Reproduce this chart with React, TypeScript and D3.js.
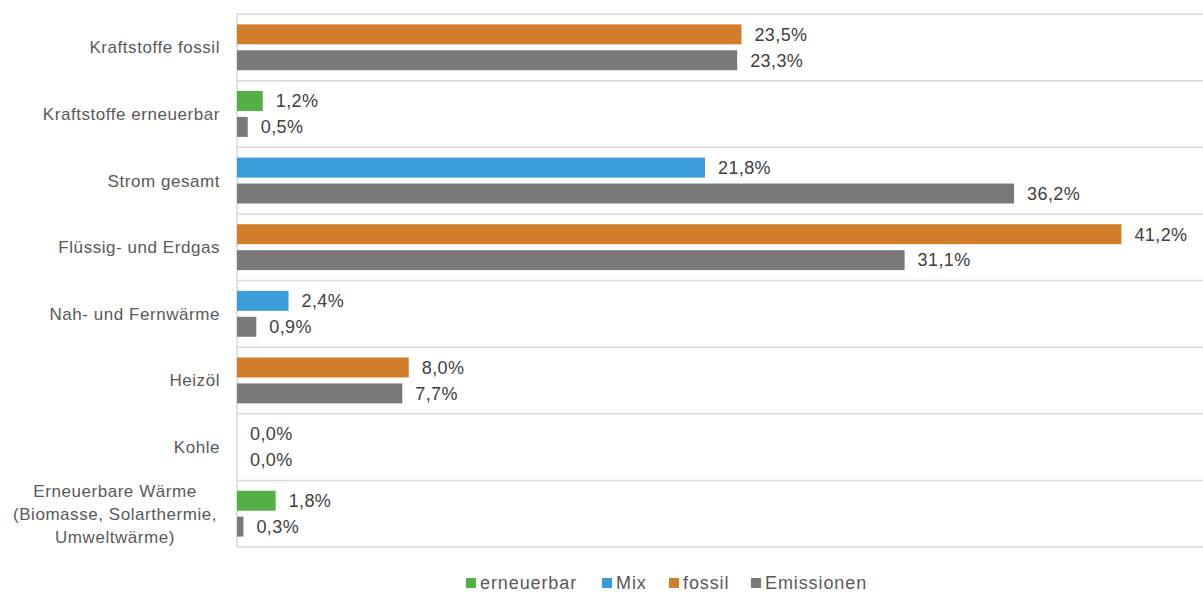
import React from "react";
import { scaleLinear, scaleBand, range } from "d3";

// categories (top to bottom)
const categories = [
  ["Kraftstoffe fossil"],
  ["Kraftstoffe erneuerbar"],
  ["Strom gesamt"],
  ["Flüssig- und Erdgas"],
  ["Nah- und Fernwärme"],
  ["Heizöl"],
  ["Kohle"],
  ["Erneuerbare Wärme", "(Biomasse, Solarthermie,", "Umweltwärme)"],
];
// share of final energy, in %
const shareValues = [23.5, 1.2, 21.8, 41.2, 2.4, 8.0, 0.0, 1.8];
const shareTypes = ["fossil", "erneuerbar", "Mix", "fossil", "Mix", "fossil", "fossil", "erneuerbar"];
// share of emissions, in %
const emissionValues = [23.3, 0.5, 36.2, 31.1, 0.9, 7.7, 0.0, 0.3];

const legendItems = ["erneuerbar", "Mix", "fossil", "Emissionen"];
const colors: Record<string, string> = {
  erneuerbar: "#54b046",
  Mix: "#3a9cd9",
  fossil: "#d17d2a",
  Emissionen: "#7a7978",
};

const W = 1203;
const H = 594;
const margin = { top: 14, right: 0, bottom: 47, left: 237 };

const fmt = (v: number) => v.toFixed(1).replace(".", ",") + "%";

export default function App() {
  const x = scaleLinear().domain([0, 45]).range([margin.left, W - margin.right]);
  const y = scaleBand<number>()
    .domain(range(categories.length))
    .range([margin.top, H - margin.bottom]);
  const inner = scaleBand<number>()
    .domain([0, 1])
    .range([0, y.bandwidth()])
    .paddingInner(0.23)
    .paddingOuter(0.4);

  const font = "'Liberation Sans', Arial, sans-serif";
  const legendX = [466, 602, 669, 751];
  const labelRight = 220;
  // multi-line labels are centred on their longest line (approx. 210px wide)
  const multiCenter = labelRight - 105;

  return (
    <svg
      width={W}
      height={H}
      style={{ position: "absolute", left: 0, top: 0, background: "#fff", fontFamily: font }}
    >
      {/* row separators */}
      {range(categories.length + 1).map((i) => {
        const yy = i < categories.length ? y(i)! : y(categories.length - 1)! + y.bandwidth();
        return (
          <line key={i} x1={margin.left} x2={W} y1={yy} y2={yy} stroke="#d9d9d9" strokeWidth={1.5} />
        );
      })}
      <line
        x1={margin.left}
        x2={margin.left}
        y1={margin.top}
        y2={H - margin.bottom}
        stroke="#d9d9d9"
        strokeWidth={1.5}
      />

      {categories.map((lines, i) => {
        const y0 = y(i)!;
        const cy = y0 + y.bandwidth() / 2;
        const lh = 23;
        const multi = lines.length > 1;
        const bars = [
          { v: shareValues[i], c: colors[shareTypes[i]] },
          { v: emissionValues[i], c: colors.Emissionen },
        ];
        return (
          <g key={i}>
            <text
              textAnchor={multi ? "middle" : "end"}
              fontSize={17}
              letterSpacing={0.55}
              fill="#595959"
            >
              {lines.map((l, j) => (
                <tspan
                  key={j}
                  x={multi ? multiCenter : labelRight}
                  y={cy - ((lines.length - 1) * lh) / 2 + j * lh}
                  dy="0.35em"
                >
                  {l}
                </tspan>
              ))}
            </text>
            {bars.map((b, j) => {
              const by = y0 + inner(j)!;
              return (
                <g key={j}>
                  <rect
                    x={x(0)}
                    y={by}
                    width={x(b.v) - x(0)}
                    height={inner.bandwidth()}
                    fill={b.c}
                  />
                  <text
                    x={x(b.v) + 13}
                    y={by + inner.bandwidth() / 2}
                    dy="0.35em"
                    fontSize={18}
                    letterSpacing={0.4}
                    fill="#404040"
                  >
                    {fmt(b.v)}
                  </text>
                </g>
              );
            })}
          </g>
        );
      })}

      {/* legend */}
      {legendItems.map((k, i) => (
        <g key={k} transform={`translate(${legendX[i]},583)`}>
          <rect x={0} y={-5} width={10} height={10} fill={colors[k]} />
          <text x={14} dy="0.35em" fontSize={18} letterSpacing={0.9} fill="#595959">
            {k}
          </text>
        </g>
      ))}
    </svg>
  );
}
